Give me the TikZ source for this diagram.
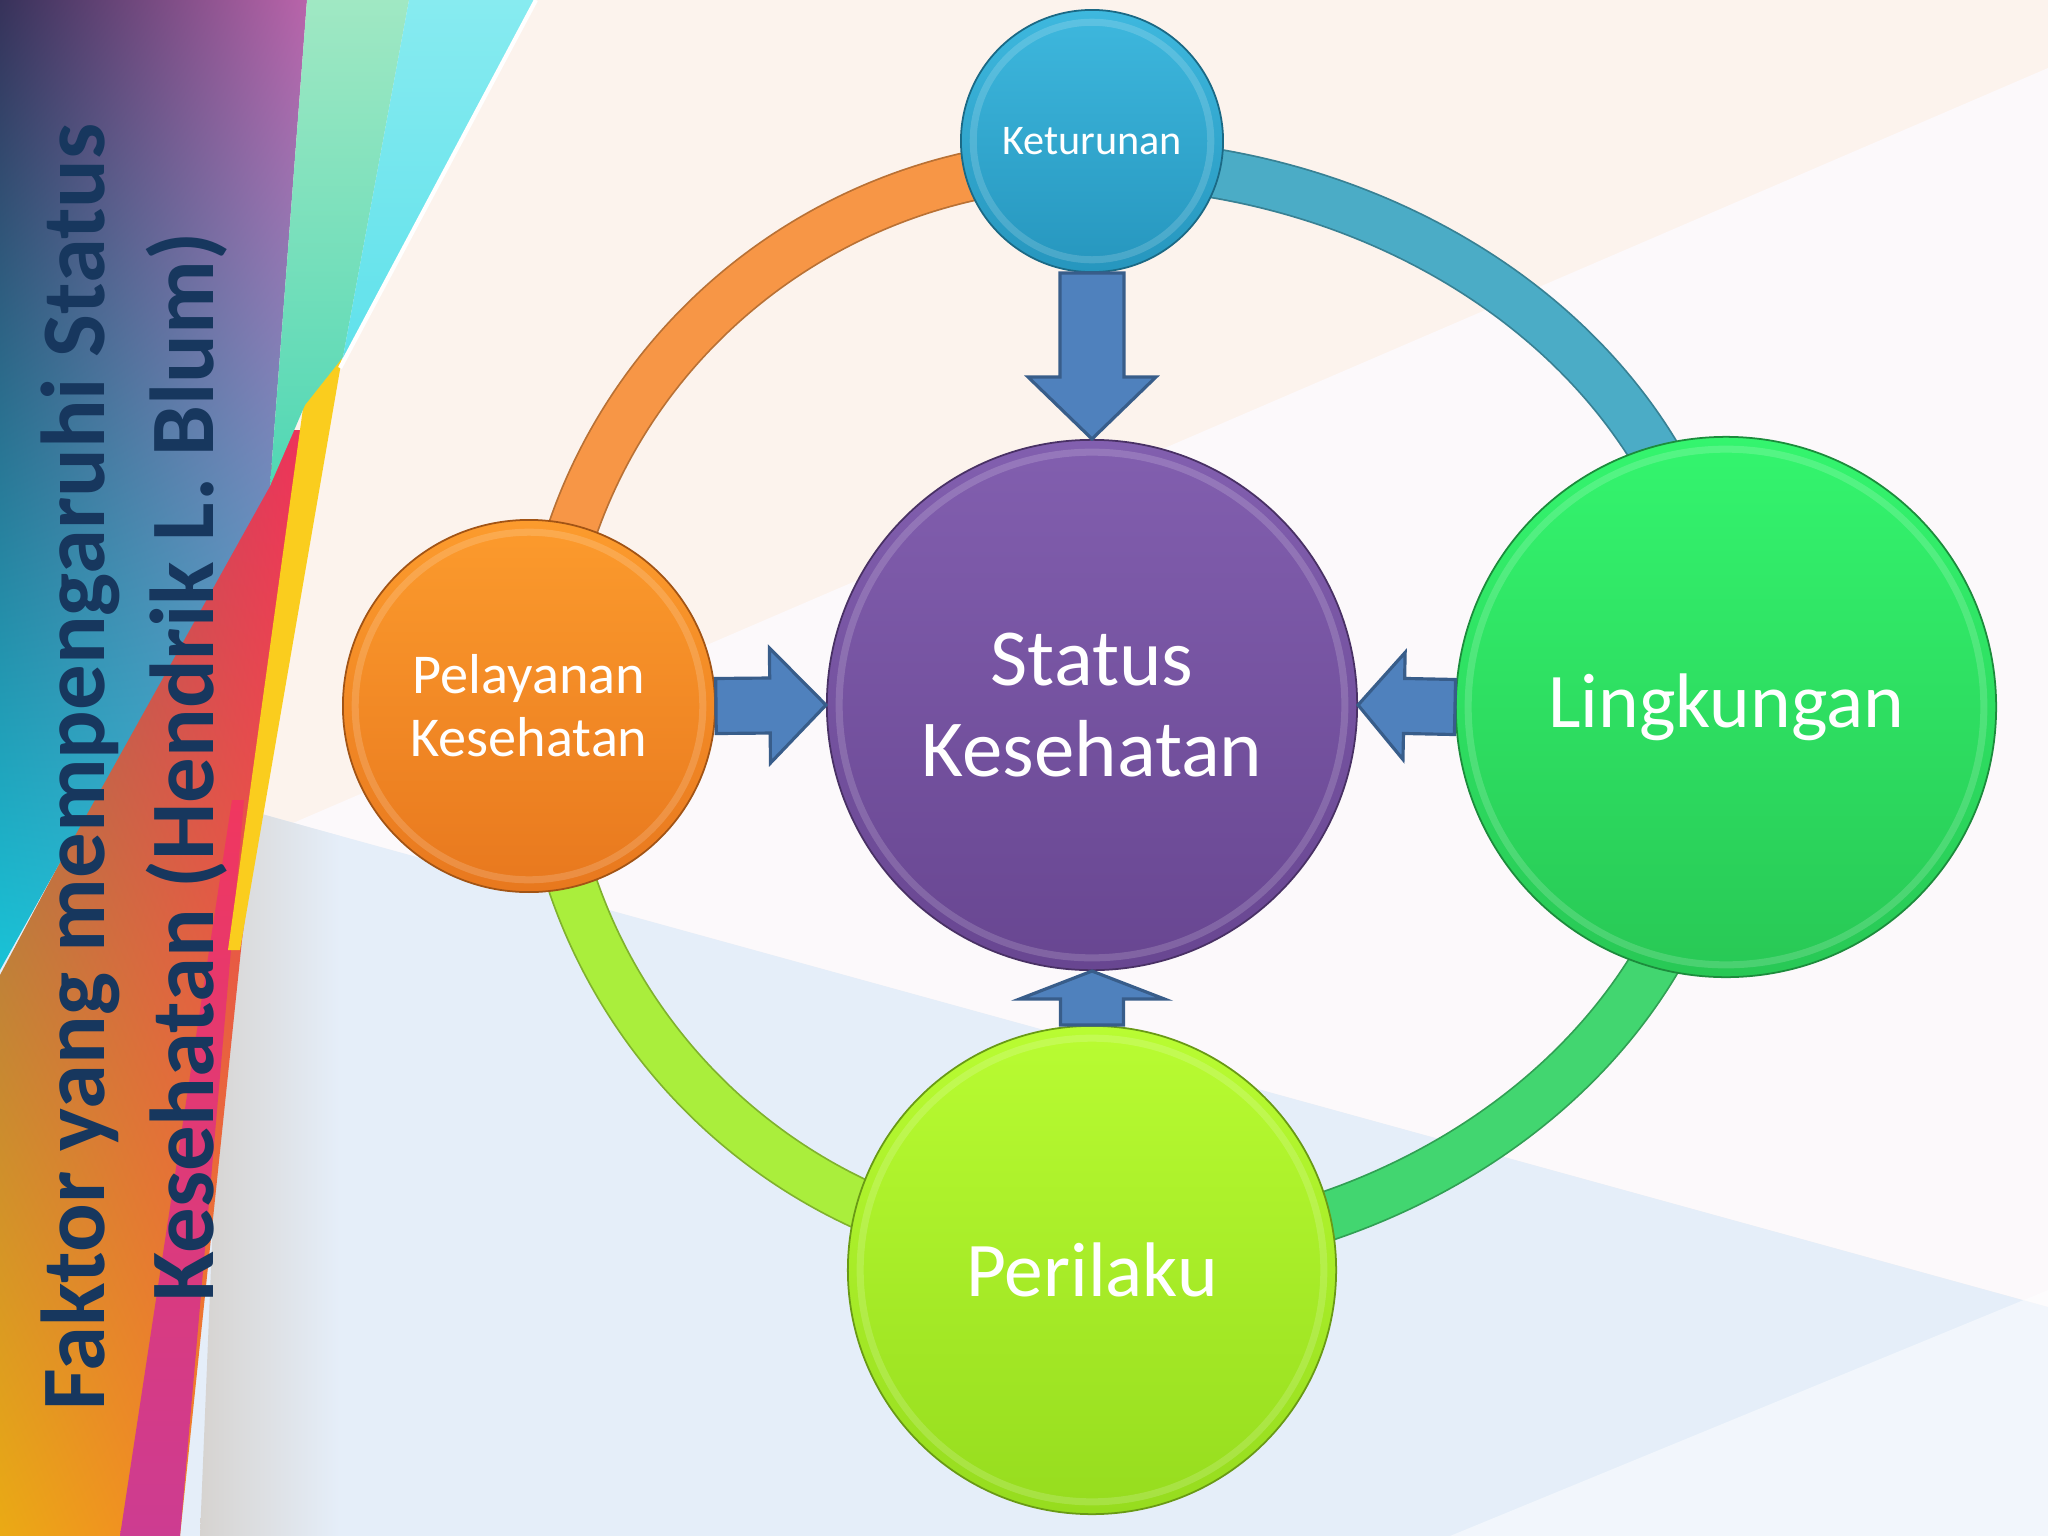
\documentclass[tikz,border=0pt]{standalone}
\usepackage{fontspec}
\setmainfont{Carlito}
\usetikzlibrary{calc, shadings}

\definecolor{bgbase}{RGB}{252,243,237}
\definecolor{bgwhite}{RGB}{252,249,251}
\definecolor{bgblue}{RGB}{229,238,249}
\definecolor{bggray}{RGB}{214,211,208}
\definecolor{titleblue}{RGB}{23,55,94}
\definecolor{arrowfill}{RGB}{79,129,189}
\definecolor{arrowline}{RGB}{56,93,138}
\definecolor{ringOrange}{RGB}{247,150,70}
\definecolor{ringBlue}{RGB}{75,172,198}
\definecolor{ringGreen}{RGB}{66,214,112}
\definecolor{ringLime}{RGB}{170,238,60}
\definecolor{ketTop}{RGB}{62,184,222}
\definecolor{ketBot}{RGB}{38,150,190}
\definecolor{statTop}{RGB}{130,95,175}
\definecolor{statBot}{RGB}{104,70,145}
\definecolor{pelTop}{RGB}{252,155,45}
\definecolor{pelBot}{RGB}{232,120,30}
\definecolor{lingTop}{RGB}{52,245,110}
\definecolor{lingBot}{RGB}{40,200,85}
\definecolor{periTop}{RGB}{185,252,50}
\definecolor{periBot}{RGB}{150,220,30}
\definecolor{warmUL}{RGB}{150,90,90}
\definecolor{warmUR}{RGB}{240,50,90}
\definecolor{warmLL}{RGB}{235,170,20}
\definecolor{warmLR}{RGB}{250,110,50}
\definecolor{panelUL}{RGB}{55,50,90}
\definecolor{panelUR}{RGB}{185,100,170}
\definecolor{panelLL}{RGB}{25,195,215}
\definecolor{panelLR}{RGB}{60,180,215}
\definecolor{pinkTop}{RGB}{240,55,95}
\definecolor{pinkBot}{RGB}{205,60,145}
\definecolor{stripeYellow}{RGB}{250,205,30}
\definecolor{greenTop}{RGB}{160,232,195}
\definecolor{greenBot}{RGB}{80,215,180}
\definecolor{cyanTop}{RGB}{135,235,240}
\definecolor{cyanBot}{RGB}{95,225,235}

\pgfdeclarelayer{back}
\pgfdeclarelayer{ring}
\pgfsetlayers{back,ring,main}

% block arrow: tail, tip, half shaft, half head, head length
\newcommand{\blockarrow}[5]{%
  \coordinate (hb) at ($(#2)!#5!(#1)$);
  \draw[blockarrow] ($(#1)!#3!90:(#2)$) -- ($(hb)!#3!90:(#2)$) -- ($(hb)!#4!90:(#2)$) -- (#2)
    -- ($(hb)!#4!-90:(#2)$) -- ($(hb)!#3!-90:(#2)$) -- ($(#1)!#3!-90:(#2)$) -- cycle;
}

\begin{document}
\begin{tikzpicture}[x=0.01cm, y=0.01cm,
ball/.style 2 args={circle, inner sep=0pt, align=center, text=white, top color=#1, bottom color=#2, draw=#2!70!black, line width=0.5pt,
  path picture={\draw[white, opacity=0.16, line width=2pt] let \p1=($(path picture bounding box.east)-(path picture bounding box.center)$) in (path picture bounding box.center) circle[radius=\x1-3.5pt];}},
ringarc/.style={draw=#1!75!black, double=#1, double distance=0.47cm, line width=0.5pt},
blockarrow/.style={fill=arrowfill, draw=arrowline, line width=0.9pt, line join=miter}
]
	\useasboundingbox (0,0) rectangle (2048,-1536);

	% background
	\begin{pgfonlayer}{back}
	\fill[bgbase] (0,0) rectangle (2048,-1536);
	\fill[bgwhite] (293,-823) -- (2048,-68) -- (2048,-1307) -- cycle;
	\fill[bgblue] (0,-742) -- (2048,-1307) -- (2048,-1536) -- (0,-1536) -- cycle;
	\fill[white, opacity=0.5] (1450,-1536) -- (2048,-1290) -- (2048,-1536) -- cycle;
	\shade[left color=bggray, right color=bgblue] (200,-1536) -- (230,-805) -- (340,-836) -- (340,-1536) -- cycle;
	\shade[shading=bilinear interpolation, upper left=warmUL, upper right=warmUR, lower left=warmLL, lower right=warmLR]
		(290,-430) -- (0,-975) -- (0,-1536) -- (180,-1536) -- (242,-940) -- (310,-430) -- cycle;
	\shade[top color=pinkTop, bottom color=pinkBot] (232,-800) -- (120,-1536) -- (180,-1536) -- (244,-800) -- cycle;
	\fill[stripeYellow] (352,-300) -- (240,-950) -- (228,-950) -- (318,-300) -- cycle;
	\shade[shading=bilinear interpolation, upper left=panelUL, upper right=panelUR, lower left=panelLL, lower right=panelLR]
		(0,0) -- (307,0) -- (270,-486) -- (0,-970) -- cycle;
	\shade[top color=greenTop, bottom color=greenBot] (307,0) -- (409,0) -- (343,-357) -- (305,-405) -- (270,-486) -- cycle;
	\shade[top color=cyanTop, bottom color=cyanBot] (409,0) -- (536,0) -- (340,-368) -- (343,-357) -- cycle;
	\draw[white, line width=1.2pt] (536,0) -- (340,-368);
	\end{pgfonlayer}

	\node[rotate=90, align=center, text=titleblue, font=\bfseries\fontsize{25.8}{31}\selectfont] (title) at (134,-767) {Faktor yang mempengaruhi Status\\Kesehatan (Hendrik L. Blum)};

	% circles
	\node[ball={statTop}{statBot}, minimum size=5.3cm, font=\fontsize{23}{26}\selectfont] (stat) at (1092,-705) {Status\\Kesehatan};
	\node[ball={ketTop}{ketBot}, minimum size=2.62cm, font=\fontsize{12}{14}\selectfont] (ket) at (1092,-141) {Keturunan};
	\node[ball={pelTop}{pelBot}, minimum size=3.72cm, font=\fontsize{16}{18}\selectfont] (pel) at (529,-706) {Pelayanan\\Kesehatan};
	\node[ball={lingTop}{lingBot}, minimum size=5.4cm, font=\fontsize{22}{26}\selectfont] (ling) at (1726,-707) {Lingkungan};
	\node[ball={periTop}{periBot}, minimum size=4.88cm, font=\fontsize{22}{26}\selectfont] (peri) at (1092,-1270) {Perilaku};

	% ring behind the circles
	\begin{pgfonlayer}{ring}
	\draw[ringarc=ringOrange] ([xshift=0.14cm]pel.center) to[out=90, in=180] ([yshift=-0.22cm]ket.center);
	\draw[ringarc=ringBlue] ([yshift=-0.22cm]ket.center) to[out=0, in=90] (ling.center);
	\draw[ringarc=ringGreen] (ling.center) to[out=-90, in=0] ([yshift=0.15cm]peri.center);
	\draw[ringarc=ringLime] ([yshift=0.15cm]peri.center) to[out=180, in=-90] ([xshift=0.14cm]pel.center);
	\end{pgfonlayer}

	% arrows into the centre
	\blockarrow{ket.south}{stat.north}{0.32cm}{0.64cm}{0.62cm}
	\blockarrow{pel.east}{stat.west}{0.275cm}{0.575cm}{0.56cm}
	\blockarrow{ling.west}{stat.east}{0.275cm}{0.535cm}{0.46cm}
	\blockarrow{peri.north}{stat.south}{0.315cm}{0.725cm}{0.28cm}
\end{tikzpicture}
\end{document}
